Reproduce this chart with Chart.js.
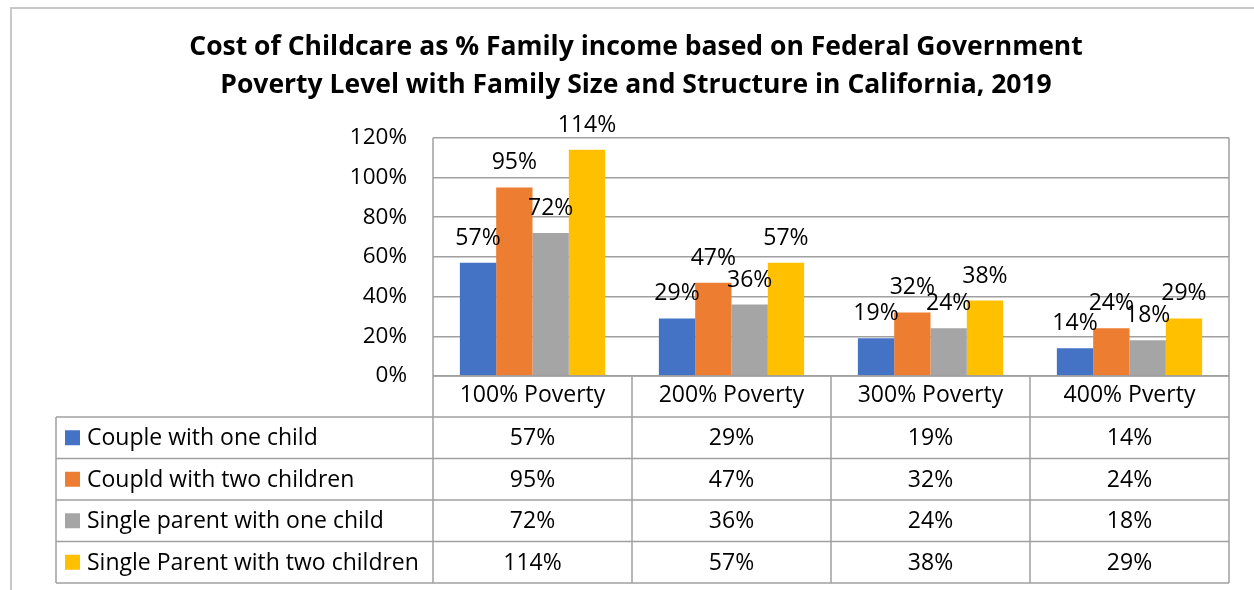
<!DOCTYPE html>
<html>
<head>
<meta charset="utf-8">
<title>Cost of Childcare</title>
<script src="https://cdn.jsdelivr.net/npm/chart.js@4/dist/chart.umd.min.js"></script>
<style>
    html, body { margin: 0; padding: 0; background: #fff; }
    #wrap { position: relative; width: 1254px; height: 590px; }
    #frame { position: absolute; left: 10px; top: 7px; right: -2px; bottom: -2px; border: 2px solid #c8c8c8; }
</style>
</head>
<body>
<div id="wrap">
    <div id="frame"></div>
    <canvas id="chart" width="1254" height="590"></canvas>
</div>
<script>
const categories = ['100% Poverty', '200% Poverty', '300% Poverty', '400% Pverty'];
const seriesNames = ['Couple with one child', 'Coupld with two children', 'Single parent with one child', 'Single Parent with two children'];
const coupleOneChild = [57, 29, 19, 14];
const coupleTwoChildren = [95, 47, 32, 24];
const singleOneChild = [72, 36, 24, 18];
const singleTwoChildren = [114, 57, 38, 29];
const yTicks = [0, 20, 40, 60, 80, 100, 120];
const seriesColors = ['#4472C4', '#ED7D31', '#A5A5A5', '#FFC000'];

const FONT = 'Open Sans';
const LINE = '#a0a0a0';

const allSeries = [coupleOneChild, coupleTwoChildren, singleOneChild, singleTwoChildren];

// value labels above the bars
const barLabels = {
    id: 'barLabels',
    afterDatasetsDraw(chart) {
        const ctx = chart.ctx;
        ctx.save();
        ctx.font = '23px "' + FONT + '"';
        ctx.fillStyle = '#000';
        ctx.textAlign = 'center';
        ctx.textBaseline = 'alphabetic';
        chart.data.datasets.forEach((ds, i) => {
            chart.getDatasetMeta(i).data.forEach((bar, j) => {
                ctx.fillText(ds.data[j] + '%', bar.x, bar.y - 18);
            });
        });
        ctx.restore();
    }
};

// data table under the plot, like Excel's
const dataTable = {
    id: 'dataTable',
    afterDraw(chart) {
        const ctx = chart.ctx;
        const area = chart.chartArea;
        const x = chart.scales.x;
        const half = (x.getPixelForValue(1) - x.getPixelForValue(0)) / 2;
        const tableLeft = 56;
        const headBottom = 417;
        const rowH = 41.5;
        const tableBottom = headBottom + rowH * allSeries.length;

        ctx.save();
        ctx.strokeStyle = LINE;
        ctx.lineWidth = 1.5;
        ctx.beginPath();
        // horizontal lines
        for (let r = 0; r <= allSeries.length; r++) {
            const y = headBottom + r * rowH;
            ctx.moveTo(tableLeft, y);
            ctx.lineTo(area.right, y);
        }
        ctx.moveTo(area.left, area.bottom);
        ctx.lineTo(area.right, area.bottom);
        // vertical lines
        ctx.moveTo(tableLeft, headBottom);
        ctx.lineTo(tableLeft, tableBottom);
        ctx.moveTo(area.left, area.top);
        ctx.lineTo(area.left, tableBottom);
        ctx.moveTo(area.right, area.top);
        ctx.lineTo(area.right, tableBottom);
        categories.forEach((c, i) => {
            if (i === 0) return;
            const bx = x.getPixelForValue(i) - half;
            ctx.moveTo(bx, area.bottom);
            ctx.lineTo(bx, tableBottom);
        });
        ctx.stroke();

        ctx.font = '23px "' + FONT + '"';
        ctx.textBaseline = 'middle';
        allSeries.forEach((vals, r) => {
            const cy = headBottom + r * rowH + rowH / 2;
            ctx.fillStyle = seriesColors[r];
            ctx.fillRect(65, cy - 7.5, 15, 15);
            ctx.fillStyle = '#000';
            ctx.textAlign = 'left';
            ctx.fillText(seriesNames[r], 87, cy + 1);
            ctx.textAlign = 'center';
            vals.forEach((v, j) => {
                ctx.fillText(v + '%', x.getPixelForValue(j), cy + 1);
            });
        });
        ctx.restore();
    }
};

new Chart(document.getElementById('chart'), {
    type: 'bar',
    data: {
        labels: categories,
        datasets: allSeries.map((vals, i) => ({
            label: seriesNames[i],
            data: vals,
            backgroundColor: seriesColors[i],
            borderWidth: 0,
            barPercentage: 1,
            categoryPercentage: 0.73
        }))
    },
    options: {
        responsive: false,
        animation: false,
        layout: { padding: { left: 43, right: 25, top: 0, bottom: 0 } },
        plugins: {
            legend: { display: false },
            tooltip: { enabled: false },
            title: {
                display: true,
                text: ['Cost of Childcare as % Family income based on Federal Government',
                       'Poverty Level with Family Size and Structure in California, 2019'],
                color: '#000',
                font: { family: FONT, size: 26.5, weight: 'bold', lineHeight: 1.43 },
                padding: { top: 29, bottom: 33 }
            }
        },
        scales: {
            x: {
                grid: { display: false, drawTicks: false },
                border: { display: false },
                ticks: { color: '#000', padding: 6, font: { family: FONT, size: 23 } },
                afterFit(s) { s.height = 214; }
            },
            y: {
                min: 0,
                max: 120,
                afterBuildTicks(s) { s.ticks = yTicks.map(v => ({ value: v })); },
                grid: { color: LINE, lineWidth: 1.5, drawTicks: false },
                border: { display: false },
                ticks: {
                    color: '#000',
                    padding: 26,
                    font: { family: FONT, size: 22.5 },
                    callback: v => v + '%'
                },
                afterFit(s) { s.width = 390; }
            }
        }
    },
    plugins: [barLabels, dataTable]
});
</script>
</body>
</html>
